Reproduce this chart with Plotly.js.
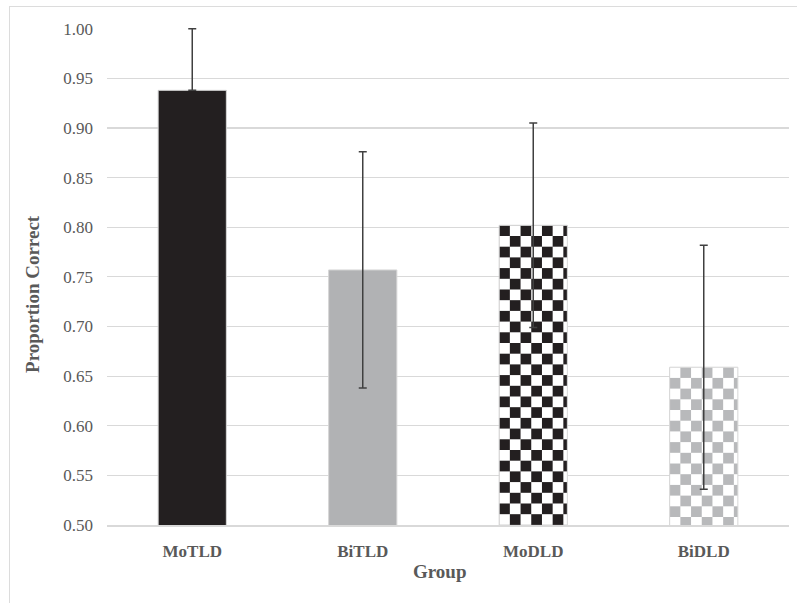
<!DOCTYPE html>
<html>
<head>
<meta charset="utf-8">
<script src="https://cdn.plot.ly/plotly-3.0.1.min.js"></script>
<style>
  html, body { margin: 0; padding: 0; background: #fff; overflow: hidden; }
  #chart { position: absolute; left: 0; top: 0; width: 797px; height: 603px; }
  #frame { position: absolute; left: 9px; top: 6px; width: 820px; height: 630px;
           border: 1.5px solid #dcdcdc; pointer-events: none; }
</style>
</head>
<body>
<div id="chart"></div>
<div id="frame"></div>
<script>
// ---- data ----
const groups     = ['MoTLD', 'BiTLD', 'MoDLD', 'BiDLD'];
const means      = [0.938, 0.757, 0.802, 0.659];
const errsPlus   = [0.062, 0.119, 0.103, 0.123];
const errsMinus  = [0.000, 0.119, 0.103, 0.123];
const yTicks     = [0.50, 0.55, 0.60, 0.65, 0.70, 0.75, 0.80, 0.85, 0.90, 0.95, 1.00];

// ---- styles ----
const baseColors = ['#231f20', '#b1b2b4', '#ffffff', '#ffffff'];
const checker = [null, null, {color: '#231f20', darkFirst: true}, {color: '#b8b9bb', darkFirst: false}];
const cell = 10.7;
const textGray = '#595959';
const serif = '"Liberation Serif", "Times New Roman", serif';

const trace = {
  type: 'bar',
  x: groups,
  y: means,
  width: 0.4,
  marker: { color: baseColors, line: { color: '#d6d6d6', width: 1 } },
  error_y: { type: 'data', symmetric: false, array: errsPlus, arrayminus: errsMinus,
             visible: true, color: '#404040', thickness: 1.5, width: 4 },
  hoverinfo: 'x+y'
};

const layout = {
  width: 797, height: 603,
  margin: { l: 107, r: 8, t: 28, b: 78 },
  paper_bgcolor: '#ffffff', plot_bgcolor: '#ffffff',
  font: { family: serif, color: textGray },
  showlegend: false,
  xaxis: {
    type: 'category',
    showgrid: false,
    showline: true, linecolor: '#d9d9d9', linewidth: 1.5,
    ticks: '',
    ticklabelstandoff: 10,
    tickfont: { family: serif, size: 17, color: textGray, weight: 'bold' }
  },
  yaxis: {
    range: [0.5, 1.0008],
    tickvals: yTicks,
    ticktext: yTicks.map(v => v.toFixed(2)),
    showgrid: true, gridcolor: '#d9d9d9', gridwidth: 1.2,
    zeroline: false, showline: false,
    ticks: '',
    ticklabelstandoff: 13,
    tickfont: { family: serif, size: 17, color: textGray }
  },
  annotations: [
    { text: '<b>Proportion Correct</b>', textangle: -90, xref: 'paper', yref: 'paper',
      x: -0.1085, y: 0.465, xanchor: 'center', yanchor: 'middle', showarrow: false,
      font: { family: serif, size: 19, color: textGray } },
    { text: '<b>Group</b>', xref: 'paper', yref: 'paper',
      x: 0.488, y: -0.0926, xanchor: 'center', yanchor: 'middle', showarrow: false,
      font: { family: serif, size: 19, color: textGray } }
  ]
};

Plotly.newPlot('chart', [trace], layout, { displayModeBar: false, staticPlot: true }).then(gd => {
  const svgNS = 'http://www.w3.org/2000/svg';
  const defs = gd.querySelector('.main-svg defs');
  const paths = gd.querySelectorAll('.barlayer .trace .point path');
  paths.forEach((p, i) => {
    const c = checker[i];
    if (!c) return;
    const bb = p.getBBox();
    const pat = document.createElementNS(svgNS, 'pattern');
    pat.setAttribute('id', 'chk' + i);
    pat.setAttribute('patternUnits', 'userSpaceOnUse');
    pat.setAttribute('x', bb.x);
    pat.setAttribute('y', bb.y);
    pat.setAttribute('width', 2 * cell);
    pat.setAttribute('height', 2 * cell);
    const bg = document.createElementNS(svgNS, 'rect');
    bg.setAttribute('width', 2 * cell); bg.setAttribute('height', 2 * cell);
    bg.setAttribute('fill', '#ffffff');
    pat.appendChild(bg);
    const cells = c.darkFirst ? [[0, 0], [cell, cell]] : [[cell, 0], [0, cell]];
    cells.forEach(([cx, cy]) => {
      const r = document.createElementNS(svgNS, 'rect');
      r.setAttribute('x', cx); r.setAttribute('y', cy);
      r.setAttribute('width', cell); r.setAttribute('height', cell);
      r.setAttribute('fill', c.color);
      pat.appendChild(r);
    });
    defs.appendChild(pat);
    p.style.fill = 'url(#chk' + i + ')';
  });
});
</script>
</body>
</html>
